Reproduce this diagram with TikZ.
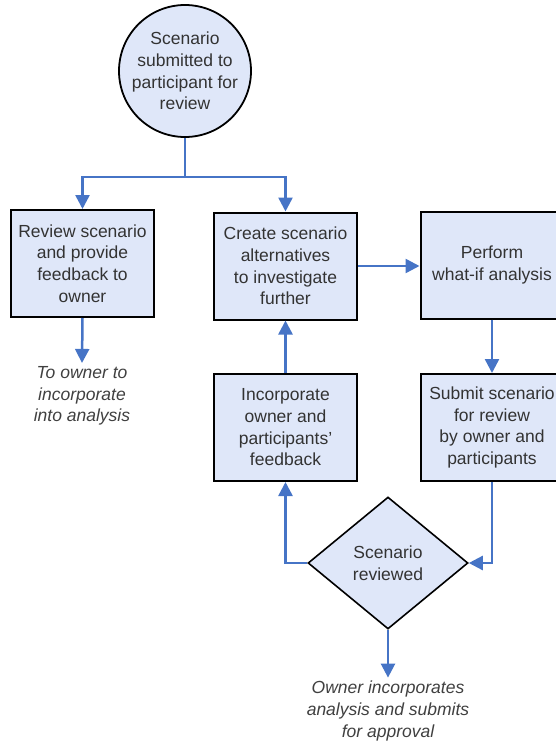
\documentclass[tikz,border=0pt]{standalone}
\usepackage{fontspec}
\setmainfont{Liberation Sans}
\usetikzlibrary{arrows.meta,shapes.geometric}

\definecolor{boxfill}{HTML}{DFE7F9}
\definecolor{flowblue}{HTML}{4674C6}
\definecolor{textgray}{HTML}{333333}
\definecolor{notegray}{HTML}{404040}

\begin{document}
\begin{tikzpicture}[x=1pt, y=-1pt,
  every node/.style={font=\fontsize{17.5}{21.7}\selectfont, text=textgray},
  box/.style={draw=black, line width=2pt, fill=boxfill, align=center,
    minimum width=143pt, minimum height=107pt, inner sep=2pt},
  startcirc/.style={circle, draw=black, line width=1.8pt, fill=boxfill, align=center,
    minimum size=132pt, inner sep=0pt},
  decision/.style={diamond, draw=black, line width=1.6pt, fill=boxfill, align=center,
    minimum width=160pt, minimum height=132pt, inner sep=0pt},
  note/.style={align=center, font=\fontsize{17.5}{21.7}\selectfont\itshape, text=notegray},
  flow/.style={draw=flowblue, line width=2.5pt, -{Triangle[width=14pt,length=14pt]}}]

  %--- Bildrahmen (Pixelmass 555 x 744)
  \useasboundingbox (0,0) rectangle (555,744);

  %--- Start
  \node[startcirc] (start) at (185,71) {Scenario\\submitted to\\participant for\\review};
  \coordinate (split) at (185,177);

  %--- obere Reihe
  \node[box] (review)  at (82.5,263.5) {Review scenario\\and provide\\feedback to\\owner};
  \node[box] (create)  at (285.5,266)  {Create scenario\\alternatives\\to investigate\\further};
  \node[box] (perform) at (492,265)    {Perform\\what-if analysis};

  %--- mittlere Reihe
  \node[box] (incorp) at (285.5,427.5) {Incorporate\\owner and\\participants'\\feedback};
  \node[box] (submit) at (492,427.5)   {Submit scenario\\for review\\by owner and\\participants};

  %--- Entscheidung
  \node[decision] (decide) at (388,563) {Scenario\\reviewed};

  %--- Notizen (kursiv)
  \node[note] (ownernote)    at (82,396)  {To owner to\\incorporate\\into analysis};
  \node[note] (approvalnote) at (388,711) {Owner incorporates\\analysis and submits\\for approval};

  %--- Verbindungen
  \draw[flow] (start.south) -- (split) -| (review.north);
  \draw[flow] (split) -| (create.north);
  \draw[flow] (review.south) -- (ownernote.north);
  \draw[flow] (create.east) -- (create.east -| perform.west);
  \draw[flow] (perform.south) -- (submit.north);
  \draw[flow] (submit.south) |- (decide.east);
  \draw[flow] (decide.west) -| (incorp.south);
  \draw[flow] (incorp.north) -- (create.south);
  \draw[flow] (decide.south) -- (approvalnote.north);
\end{tikzpicture}
\end{document}
